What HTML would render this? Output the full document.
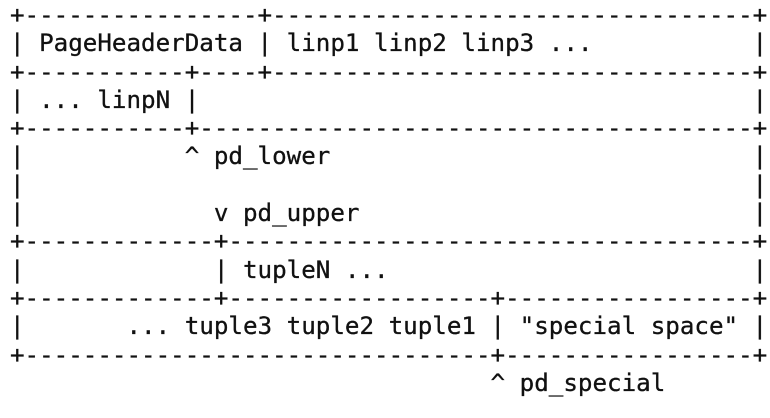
<!DOCTYPE html>
<html><head><meta charset="utf-8"><style>
html,body{margin:0;padding:0;background:#fff;width:770px;height:418px;overflow:hidden}
pre{position:absolute;left:10px;top:1px;margin:0;font-family:"DejaVu Sans Mono","Liberation Mono",monospace;font-size:24.2px;line-height:28.3px;color:#111;letter-spacing:0;-webkit-text-stroke:0.3px #111}
</style></head><body>
<pre>+----------------+---------------------------------+
| PageHeaderData | linp1 linp2 linp3 ...           |
+-----------+----+---------------------------------+
| ... linpN |                                      |
+-----------+--------------------------------------+
|           ^ pd_lower                             |
|                                                  |
|             v pd_upper                           |
+-------------+------------------------------------+
|             | tupleN ...                         |
+-------------+------------------+-----------------+
|       ... tuple3 tuple2 tuple1 | "special space" |
+--------------------------------+-----------------+
                                 ^ pd_special</pre>
</body></html>
